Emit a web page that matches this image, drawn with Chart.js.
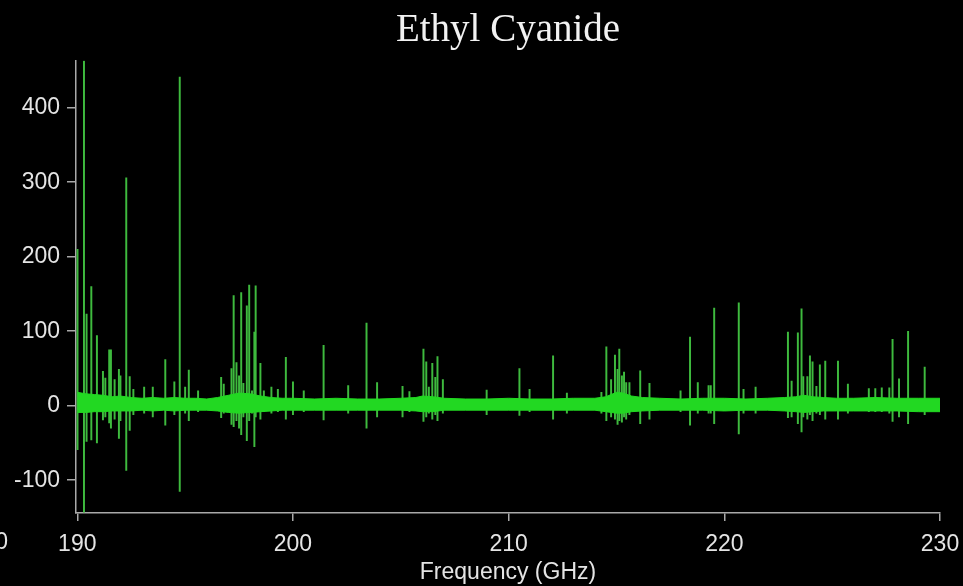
<!DOCTYPE html>
<html>
<head>
<meta charset="utf-8">
<title>Ethyl Cyanide</title>
<script src="https://cdn.jsdelivr.net/npm/chart.js@4.4.1/dist/chart.umd.min.js"></script>
<style>
  html, body { margin: 0; padding: 0; background: #000; }
</style>
</head>
<body>
<canvas id="chart" width="963" height="586"></canvas>
<script>
// spectrum lines: frequency (GHz), top and bottom of each stick
const spikeFreq = [
  190.01, 190.31, 190.43, 190.65, 190.91, 191.19, 191.30, 191.48, 191.56, 191.73,
  191.93, 192.00, 192.27, 192.43, 192.60, 193.10, 193.50, 194.08, 194.50, 194.75,
  195.00, 195.17, 195.60, 196.67, 196.79, 197.15, 197.25, 197.38, 197.50, 197.60,
  197.70, 197.86, 197.97, 198.10, 198.21, 198.27, 198.49, 198.65, 199.00, 199.30,
  199.67, 200.00, 200.50, 201.42, 202.56, 203.41, 203.90, 205.08, 205.40, 206.05,
  206.18, 206.30, 206.46, 206.60, 206.70, 206.95, 208.98, 210.50, 210.97, 212.06,
  212.70, 214.30, 214.53, 214.75, 214.93, 215.05, 215.13, 215.25, 215.35, 215.45,
  215.60, 216.10, 216.53, 217.97, 218.41, 218.77, 219.27, 219.37, 219.53, 220.67,
  220.89, 221.45, 222.95, 223.12, 223.41, 223.58, 223.66, 223.85, 223.97, 224.09,
  224.27, 224.43, 224.68, 225.27, 225.73, 226.70, 227.00, 227.30, 227.65, 227.80,
  228.10, 228.52, 229.29
];
const spikeHigh = [
  210, 463, 123, 160, 94, 46, 37, 75, 75, 35,
  49, 40, 306, 39, 22, 25, 25, 62, 32, 441,
  25, 48, 20, 38, 29, 50, 148, 58, 40, 152,
  30, 134, 162, 20, 99, 161, 57, 20, 25, 22,
  65, 32, 20, 81, 27, 111, 31, 26, 19, 76,
  59, 25, 57, 38, 66, 35, 21, 50, 22, 67,
  17, 18, 79, 35, 68, 49, 76, 40, 45, 31,
  31, 47, 30, 20, 92, 31, 27, 27, 131, 138,
  22, 25, 99, 33, 98, 130, 39, 39, 67, 59,
  26, 55, 60, 60, 29, 23, 23, 24, 24, 89,
  36, 100, 52
];
const spikeLow = [
  -59, -143, -48, -46, -50, -19, -15, -23, -30, -18,
  -44, -20, -87, -33, -12, -10, -15, -26, -12, -115,
  -10, -20, -8, -16, -10, -25, -28, -20, -30, -39,
  -15, -47, -20, -10, -55, -15, -18, -8, -10, -8,
  -18, -12, -8, -19, -10, -30, -15, -15, -8, -21,
  -15, -10, -18, -12, -20, -10, -12, -13, -8, -18,
  -10, -10, -20, -15, -18, -25, -20, -22, -15, -18,
  -12, -24, -18, -8, -26, -10, -10, -10, -24, -38,
  -10, -10, -16, -15, -24, -35, -15, -18, -12, -20,
  -10, -12, -18, -18, -10, -8, -8, -8, -10, -21,
  -15, -24, -12
];

// noise band envelope
const bandFreq = [
  190.0, 190.4, 190.8, 191.2, 191.6, 192.0, 192.5, 193.0, 193.5, 194.0,
  194.5, 195.0, 195.5, 196.0, 196.5, 197.0, 197.5, 198.0, 198.5, 199.0,
  199.5, 200.0, 201.0, 202.0, 203.0, 204.0, 205.0, 205.7, 206.0, 206.5,
  207.0, 208.0, 209.0, 210.0, 211.0, 212.0, 213.0, 214.0, 214.5, 215.0,
  215.3, 215.7, 216.2, 217.0, 218.0, 219.0, 220.0, 221.0, 222.0, 222.8,
  223.3, 223.7, 224.1, 224.6, 225.2, 226.0, 227.0, 228.0, 229.0, 230.0
];
const bandUpper = [
  18, 16, 15, 14, 12, 13, 11, 10, 11, 10,
  11, 10, 10, 9, 11, 14, 17, 16, 13, 11,
  10, 10, 9, 10, 9, 9, 10, 11, 13, 12,
  10, 9, 9, 10, 9, 9, 10, 10, 12, 18,
  17, 13, 11, 10, 9, 10, 10, 9, 10, 11,
  12, 14, 12, 11, 10, 10, 11, 10, 10, 10
];
const bandLower = [
  -9, -9, -8, -8, -7, -7, -7, -6, -7, -6,
  -7, -6, -6, -6, -7, -9, -10, -9, -8, -7,
  -6, -6, -6, -6, -6, -6, -6, -7, -8, -8,
  -6, -6, -6, -6, -6, -6, -6, -6, -8, -10,
  -10, -8, -7, -6, -6, -6, -7, -6, -6, -7,
  -8, -9, -8, -7, -7, -7, -7, -7, -8, -8
];

const xTicks = [190, 200, 210, 220, 230];
const yTicks = [-100, 0, 100, 200, 300, 400];

const axisColor = '#a9a9a9';
const labelColor = '#e4e4e4';
const bandColor = '#22d822';
const stickColor = 'rgb(62, 186, 62)';
const sansFont = '"Liberation Sans", Arial, sans-serif';

// stray tick label at the left edge (cut off neighbour axis)
const edgeLabel = {
  id: 'edgeLabel',
  afterDraw(chart) {
    const ctx = chart.ctx;
    ctx.save();
    ctx.font = '23px ' + sansFont;
    ctx.fillStyle = labelColor;
    ctx.textAlign = 'right';
    ctx.textBaseline = 'middle';
    ctx.fillText('0', 8, 543);
    ctx.restore();
  }
};

new Chart(document.getElementById('chart'), {
  type: 'line',
  data: {
    datasets: [
      {
        label: 'band top',
        data: bandFreq.map((f, i) => ({ x: f, y: bandUpper[i] })),
        borderColor: bandColor,
        backgroundColor: bandColor,
        borderWidth: 1,
        pointRadius: 0,
        tension: 0,
        fill: '+1'
      },
      {
        label: 'band bottom',
        data: bandFreq.map((f, i) => ({ x: f, y: bandLower[i] })),
        borderColor: bandColor,
        borderWidth: 1,
        pointRadius: 0,
        tension: 0,
        fill: false
      },
      {
        type: 'bar',
        label: 'lines',
        data: spikeFreq.map((f, i) => ({ x: f, y: [spikeLow[i], spikeHigh[i]] })),
        backgroundColor: stickColor,
        borderWidth: 0,
        barThickness: 1.3,
        grouped: false
      }
    ]
  },
  options: {
    responsive: false,
    animation: false,
    layout: { padding: { left: 0, right: 23, top: 0, bottom: 0 } },
    plugins: {
      legend: { display: false },
      tooltip: { enabled: false },
      title: {
        display: true,
        text: 'Ethyl Cyanide',
        color: '#f2f2f2',
        fullSize: false,
        font: { family: '"Liberation Serif", "Times New Roman", serif', size: 39, weight: 'normal' },
        padding: { top: 7, bottom: 7 }
      }
    },
    scales: {
      x: {
        type: 'linear',
        min: 189.94,
        max: 230,
        offset: false,
        afterBuildTicks: (s) => { s.ticks = xTicks.map(v => ({ value: v })); },
        afterFit: (s) => { s.height = 73; s.paddingLeft = 0; s.paddingRight = 0; },
        border: { display: true, color: axisColor, width: 1.5 },
        grid: { display: true, offset: false, drawOnChartArea: false, drawTicks: true, tickLength: 8, color: axisColor, lineWidth: 1.5 },
        ticks: { color: labelColor, font: { family: sansFont, size: 23 }, padding: 10, maxRotation: 0, autoSkip: false },
        title: {
          display: true,
          text: 'Frequency (GHz)',
          color: labelColor,
          font: { family: sansFont, size: 23 },
          padding: { top: 0, bottom: 0 }
        }
      },
      y: {
        min: -144,
        max: 463,
        afterBuildTicks: (s) => { s.ticks = yTicks.map(v => ({ value: v })); },
        afterFit: (s) => { s.width = 76; },
        border: { display: true, color: axisColor, width: 1.5 },
        grid: { display: true, drawOnChartArea: false, drawTicks: true, tickLength: 9, color: axisColor, lineWidth: 1.5 },
        ticks: { color: labelColor, font: { family: sansFont, size: 23 }, padding: 7 }
      }
    }
  },
  plugins: [edgeLabel]
});
</script>
</body>
</html>
